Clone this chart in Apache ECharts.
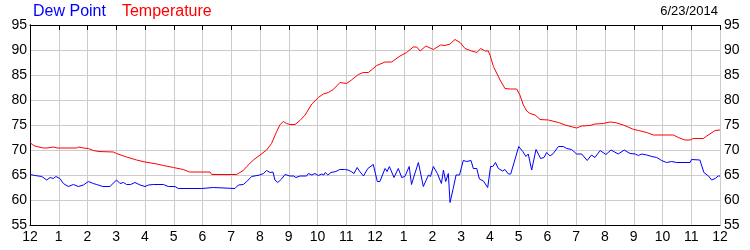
<!DOCTYPE html>
<html>
<head>
<meta charset="utf-8">
<script src="https://cdn.jsdelivr.net/npm/echarts@6/dist/echarts.min.js"></script>
<style>html,body{margin:0;padding:0;background:#fff}#c{width:750px;height:250px}</style>
</head>
<body>
<div id="c"></div>
<script>
const dateLabel = '6/23/2014';
const seriesNames = ['Dew Point', 'Temperature'];
const hourTicks = ['12','1','2','3','4','5','6','7','8','9','10','11','12','1','2','3','4','5','6','7','8','9','10','11','12'];

const tempHours = [0,0.08,0.17,0.46,0.6,0.81,0.95,1.62,1.7,1.85,2.03,2.2,2.4,2.9,3.01,3.36,3.71,4.0,4.41,4.64,4.99,5.33,5.55,6.26,6.32,7.19,7.3,7.42,7.54,7.77,8.0,8.23,8.4,8.58,8.7,8.81,8.92,9.04,9.22,9.39,9.57,9.8,10.03,10.2,10.38,10.55,10.78,11.01,11.18,11.42,11.59,11.77,12.06,12.35,12.58,12.87,13.1,13.33,13.45,13.57,13.77,14.03,14.28,14.43,14.61,14.78,14.96,15.13,15.36,15.54,15.68,15.83,15.94,16.0,16.12,16.35,16.52,16.7,16.93,17.04,17.16,17.28,17.39,17.57,17.74,18.03,18.09,18.38,18.61,19.01,19.19,19.48,19.65,19.94,20.17,20.35,20.64,21.0,21.17,21.45,21.68,22.38,22.55,22.78,22.96,23.07,23.42,23.54,23.83,24];
const tempValues = [71.5,71.1,70.8,70.4,70.4,70.6,70.4,70.4,70.6,70.4,70.3,69.9,69.7,69.6,69.3,68.6,68.0,67.6,67.2,66.9,66.5,66.1,65.6,65.6,65.1,65.1,65.5,65.9,66.7,68.0,69.0,70.0,71.3,73.7,75.1,75.7,75.3,75.1,75.1,75.9,77.0,79.2,80.5,81.2,81.5,82.1,83.5,83.3,84.0,85.1,85.5,85.5,86.9,87.6,87.6,88.8,89.5,90.6,90.6,89.8,90.8,90.1,91.0,90.9,91.2,92.1,91.5,90.3,89.8,89.5,90.3,89.8,89.8,89.0,86.7,84.0,82.3,82.2,82.2,81.0,79.0,77.8,77.3,77.0,76.1,76.0,75.7,75.5,75.0,74.4,74.8,74.9,75.2,75.3,75.6,75.5,75.0,74.1,73.9,73.5,73.0,73.0,72.5,72.0,72.0,72.3,72.3,72.8,73.9,74.0];

const dewHours = [0,0.17,0.41,0.58,0.7,0.81,0.9,1.04,1.16,1.33,1.51,1.68,1.86,2.03,2.2,2.32,2.38,2.53,2.78,3.01,3.13,3.25,3.36,3.5,3.65,3.83,4.0,4.12,4.29,4.64,4.81,5.04,5.16,5.97,6.03,6.38,6.43,7.13,7.25,7.42,7.54,7.71,7.99,8.12,8.23,8.35,8.45,8.52,8.62,8.75,8.87,9.04,9.17,9.25,9.39,9.62,9.68,9.8,9.91,10.03,10.15,10.22,10.27,10.36,10.47,10.64,10.77,10.94,11.06,11.17,11.27,11.38,11.47,11.6,11.75,11.94,12.08,12.17,12.35,12.42,12.5,12.66,12.81,12.93,13.04,13.19,13.27,13.37,13.51,13.68,13.86,13.93,14.03,14.17,14.31,14.38,14.46,14.55,14.61,14.72,14.82,14.94,15.07,15.19,15.34,15.42,15.54,15.63,15.77,15.92,16.02,16.1,16.19,16.29,16.35,16.44,16.52,16.64,16.72,17.0,17.14,17.25,17.33,17.45,17.6,17.76,17.88,17.97,18.09,18.2,18.38,18.55,18.67,18.84,19.01,19.19,19.38,19.53,19.65,19.83,20.03,20.21,20.46,20.67,20.87,21.05,21.16,21.28,21.45,21.63,21.8,21.97,22.14,22.32,22.49,22.96,23.01,23.3,23.36,23.44,23.6,23.71,23.83,23.94,24];
const dewValues = [65.1,64.9,64.7,64.0,64.5,64.3,64.7,64.3,63.3,62.7,63.1,62.7,63.0,63.7,63.3,63.1,63.5,62.7,62.7,64.0,63.3,63.5,63.1,63.1,63.5,63.0,62.7,63.0,63.1,63.1,62.7,62.7,62.3,62.3,62.5,62.5,62.3,62.3,63.0,63.1,63.7,64.7,65.0,65.3,65.9,65.5,65.6,64.0,63.5,64.2,65.1,64.8,64.8,64.5,64.8,64.8,65.3,65.0,65.3,64.9,65.2,65.0,65.5,65.0,65.5,65.7,66.1,66.1,66.0,65.7,65.3,66.5,65.7,64.8,66.3,67.1,63.7,63.7,66.3,65.7,66.7,64.5,66.3,64.5,64.7,66.7,63.1,65.0,67.5,62.7,65.0,64.7,66.7,65.3,63.3,66.0,63.7,65.3,59.5,62.3,65.0,65.0,67.9,67.7,67.9,66.3,66.3,64.2,63.8,62.5,66.7,66.7,67.5,66.3,66.3,65.8,66.1,65.2,65.2,70.7,69.7,68.7,69.2,66.0,70.1,68.3,68.5,69.5,68.8,69.3,70.7,70.7,70.3,70.1,69.2,69.2,67.9,69.0,68.5,69.9,69.1,70.0,69.2,70.0,69.3,69.2,68.9,69.2,69.0,68.7,68.5,67.9,67.5,67.7,67.5,67.5,68.1,68.0,67.7,65.5,64.8,64.0,64.3,64.8,64.8];

const font = '"Liberation Sans", Arial, sans-serif';
const pairs = (xs, ys) => xs.map((x, i) => [x, ys[i]]);

const chart = echarts.init(document.getElementById('c'), null, {renderer: 'canvas'});
chart.setOption({
  animation: false,
  backgroundColor: '#fff',
  textStyle: {fontFamily: font},
  title: {
    text: dateLabel, right: 32, top: 5, padding: 0,
    textStyle: {fontSize: 13, fontWeight: 'normal', color: '#000', fontFamily: font}
  },
  legend: {
    left: 28, top: 4, padding: 0, icon: 'none', itemWidth: 0, itemGap: 11,
    selectedMode: false,
    data: [
      {name: seriesNames[0], textStyle: {color: '#0000ff'}},
      {name: seriesNames[1], textStyle: {color: '#ff0000'}}
    ],
    textStyle: {fontSize: 16, fontFamily: font}
  },
  grid: {left: 30, right: 30, top: 25, bottom: 25, containLabel: false},
  xAxis: [{
    type: 'value', min: 0, max: 24, interval: 1, position: 'bottom',
    axisLine: {show: true, lineStyle: {color: '#000', width: 1}},
    axisTick: {show: false},
    axisLabel: {color: '#000', fontSize: 14, margin: 5, fontFamily: font,
      formatter: v => hourTicks[Math.round(v)]},
    splitLine: {show: true, lineStyle: {color: '#cccccc', width: 1}}
  }, {
    type: 'value', min: 0, max: 24, interval: 1, position: 'top',
    axisLine: {show: true, lineStyle: {color: '#000', width: 1}},
    axisTick: {show: true, inside: true, length: 5, lineStyle: {color: '#000'}},
    axisLabel: {show: false},
    splitLine: {show: false}
  }],
  yAxis: [{
    type: 'value', min: 55, max: 95, interval: 5, position: 'left',
    axisLine: {show: true, lineStyle: {color: '#000', width: 1}},
    axisTick: {show: false},
    axisLabel: {color: '#000', fontSize: 14, margin: 3, fontFamily: font},
    splitLine: {show: true, lineStyle: {color: '#cccccc', width: 1}}
  }, {
    type: 'value', min: 55, max: 95, interval: 5, position: 'right',
    axisLine: {show: true, lineStyle: {color: '#000', width: 1}},
    axisTick: {show: false},
    axisLabel: {color: '#000', fontSize: 14, margin: 4, fontFamily: font},
    splitLine: {show: false}
  }],
  series: [{
    name: seriesNames[0], type: 'line', xAxisIndex: 0, yAxisIndex: 0,
    showSymbol: false, symbol: 'none',
    lineStyle: {color: '#0000ff', width: 1}, itemStyle: {color: '#0000ff'},
    data: pairs(dewHours, dewValues)
  }, {
    name: seriesNames[1], type: 'line', xAxisIndex: 0, yAxisIndex: 0,
    showSymbol: false, symbol: 'none',
    lineStyle: {color: '#ff0000', width: 1}, itemStyle: {color: '#ff0000'},
    data: pairs(tempHours, tempValues)
  }]
});
</script>
</body>
</html>
